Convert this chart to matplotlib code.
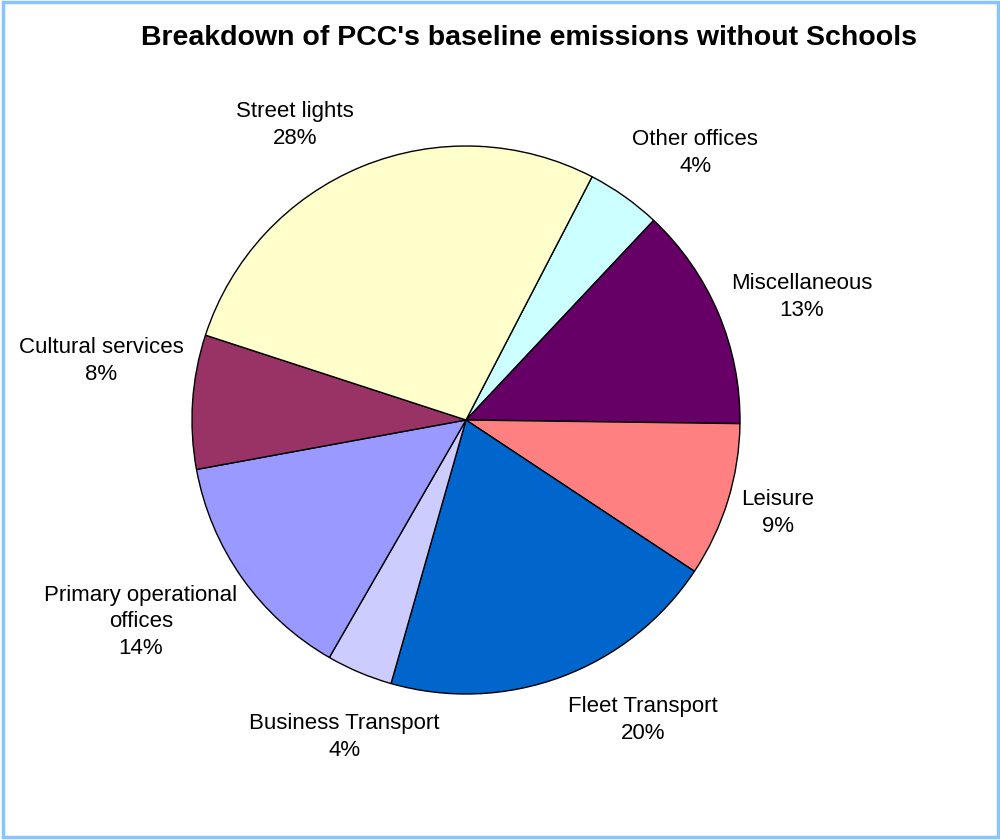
import matplotlib.pyplot as plt
from matplotlib.patches import Rectangle

plt.rcParams['font.family'] = ['Liberation Sans', 'DejaVu Sans']

# slices in clockwise order, starting after the 12 o'clock side
categories = ["Other offices", "Miscellaneous", "Leisure", "Fleet Transport",
              "Business Transport", "Primary operational\noffices",
              "Cultural services", "Street lights"]
shares = [4.4, 13.2, 9.1, 20.1, 3.9, 13.8, 7.9, 27.6]
colors = ["#CCFFFF", "#660066", "#FF8080", "#0066CC",
          "#CCCCFF", "#9999FF", "#993366", "#FFFFCC"]

# label centres, in pie radii from the centre
label_xy = [(0.836, 0.974), (1.226, 0.449), (1.139, -0.339), (0.646, -1.095),
            (-0.445, -1.157), (-1.186, -0.737), (-1.332, 0.215), (-0.624, 1.077)]

fig = plt.figure(figsize=(10, 8.4), dpi=100)
ax = fig.add_axes([0, 0, 1, 1])

ax.pie(shares, colors=colors, startangle=62.6, counterclock=False,
       wedgeprops={"edgecolor": "black", "linewidth": 1.0})
ax.set_xlim(-466 / 274, (1000 - 466) / 274)
ax.set_ylim(-420 / 274, 420 / 274)

for name, val, (x, y) in zip(categories, shares, label_xy):
    ax.text(x, y, f"{name}\n{round(val):.0f}%", ha="center", va="center",
            multialignment="center", fontsize=16, linespacing=1.35)

fig.text(0.529, 1 - 38 / 840, "Breakdown of PCC's baseline emissions without Schools",
         ha="center", va="center", fontsize=20.5, fontweight="bold")

# light blue frame round the chart area
fig.patches.append(Rectangle((0.0025, 0.003), 0.995, 0.9945, transform=fig.transFigure,
                             fill=False, edgecolor="#88C4FF", linewidth=2.5))

fig.savefig("out.png", dpi=100)
